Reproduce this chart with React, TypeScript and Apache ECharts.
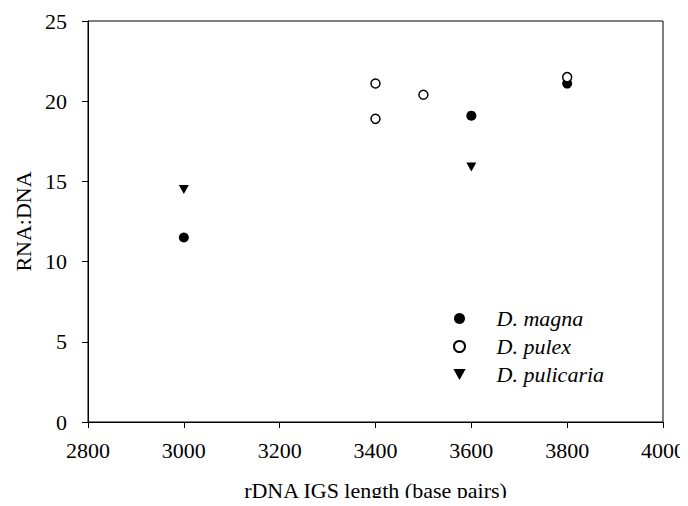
import React, { useEffect, useRef } from "react";
import * as echarts from "echarts";

const magnaX = [3000, 3600, 3800];
const magnaY = [11.5, 19.1, 21.1];
const pulexX = [3400, 3400, 3500, 3800];
const pulexY = [21.1, 18.9, 20.4, 21.5];
const pulicariaX = [3000, 3600];
const pulicariaY = [14.5, 15.9];
const seriesNames = ["D. magna", "D. pulex", "D. pulicaria"];

const font = "'Liberation Serif', 'Times New Roman', serif";
const downTri = "path://M0,0 L10,0 L5,9 Z";

function pairs(xs: number[], ys: number[]) {
  return xs.map((x, i) => [x, ys[i]]);
}

export default function App() {
  const ref = useRef<HTMLDivElement>(null);
  useEffect(() => {
    if (!ref.current) return;
    const chart = echarts.init(ref.current, undefined, { renderer: "svg" });
    chart.setOption({
      animation: false,
      backgroundColor: "#fff",
      grid: {
        left: 88,
        right: 23,
        top: 21,
        bottom: 80,
        show: true,
        borderColor: "#000",
        borderWidth: 1,
      },
      legend: {
        orient: "vertical",
        left: 448,
        top: 302,
        itemGap: 5,
        itemWidth: 20,
        itemHeight: 11,
        textStyle: {
          fontFamily: font,
          fontStyle: "italic",
          fontSize: 22,
          lineHeight: 23,
          color: "#000",
          padding: [0, 0, 0, 22],
        },
        data: seriesNames,
      },
      xAxis: {
        type: "value",
        min: 2800,
        max: 4000,
        interval: 200,
        name: "rDNA IGS length (base pairs)",
        nameLocation: "middle",
        nameGap: 57,
        nameTextStyle: { fontFamily: font, fontSize: 22, color: "#000" },
        axisLine: { show: true, lineStyle: { color: "#000", width: 1 } },
        axisTick: { show: true, inside: false, length: 6, lineStyle: { color: "#000" } },
        axisLabel: {
          fontFamily: font,
          fontSize: 22,
          color: "#000",
          margin: 17,
          formatter: (v: number) => String(v),
        },
        splitLine: { show: false },
      },
      yAxis: {
        type: "value",
        min: 0,
        max: 25,
        interval: 5,
        name: "RNA:DNA",
        nameLocation: "middle",
        nameGap: 52,
        nameTextStyle: { fontFamily: font, fontSize: 22, color: "#000" },
        axisLine: { show: true, lineStyle: { color: "#000", width: 1 } },
        axisTick: { show: true, inside: false, length: 6, lineStyle: { color: "#000" } },
        axisLabel: {
          fontFamily: font,
          fontSize: 22,
          color: "#000",
          margin: 21,
          formatter: (v: number) => String(v),
        },
        splitLine: { show: false },
      },
      series: [
        {
          name: seriesNames[0],
          type: "scatter",
          symbol: "circle",
          symbolSize: 10,
          itemStyle: { color: "#000", opacity: 1 },
          data: pairs(magnaX, magnaY),
        },
        {
          name: seriesNames[1],
          type: "scatter",
          symbol: "circle",
          symbolSize: 9,
          itemStyle: { color: "#fff", borderColor: "#000", borderWidth: 1.5, opacity: 1 },
          data: pairs(pulexX, pulexY),
        },
        {
          name: seriesNames[2],
          type: "scatter",
          symbol: downTri,
          symbolSize: [10, 9],
          itemStyle: { color: "#000", opacity: 1 },
          data: pairs(pulicariaX, pulicariaY),
        },
      ],
    });
    return () => chart.dispose();
  }, []);
  return <div ref={ref} style={{ width: 688, height: 506, margin: -8 }} />;
}
